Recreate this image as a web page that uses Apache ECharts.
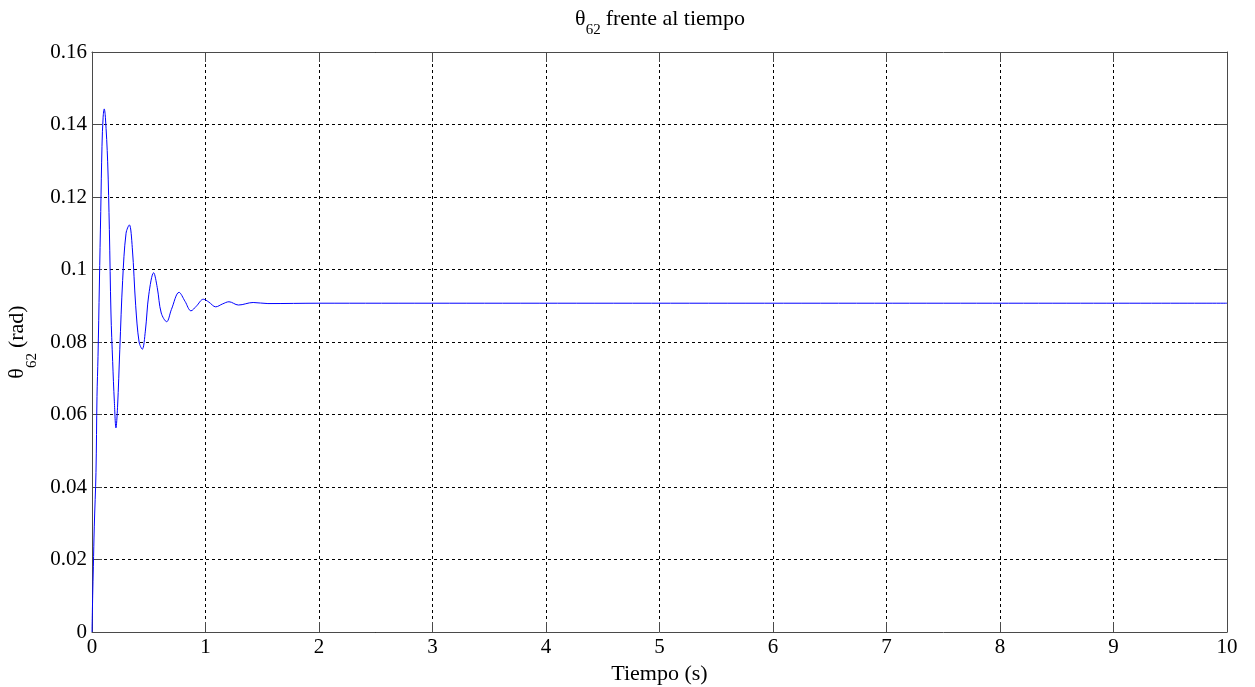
<!DOCTYPE html>
<html>
<head>
<meta charset="utf-8">
<script src="https://cdn.jsdelivr.net/npm/echarts@6/dist/echarts.min.js"></script>
<style>
  html, body { margin: 0; padding: 0; background: #fff; }
  #chart { width: 1255px; height: 687px; }
</style>
</head>
<body>
<div id="chart"></div>
<script>
// Joint angle θ62 response over time (seconds, radians)
const timeS = [
  0, 0.006, 0.012, 0.02, 0.035, 0.044, 0.053, 0.065, 0.077, 0.088, 0.098,
  0.108, 0.118, 0.138, 0.153, 0.167, 0.182, 0.197, 0.211, 0.225, 0.245,
  0.27, 0.30, 0.329, 0.355, 0.385, 0.415, 0.443, 0.47, 0.50, 0.543,
  0.575, 0.61, 0.658, 0.70, 0.767, 0.82, 0.872, 0.92, 0.981, 1.03,
  1.09, 1.15, 1.207, 1.29, 1.42, 1.55, 2, 10
];
const thetaRad = [
  0, 0.010, 0.018, 0.029, 0.044, 0.065, 0.076, 0.096, 0.116, 0.134, 0.142,
  0.1443, 0.142, 0.1297, 0.111, 0.088, 0.0746, 0.0635, 0.0563, 0.062, 0.078,
  0.097, 0.110, 0.1123, 0.106, 0.090, 0.080, 0.0780, 0.083, 0.093, 0.0991,
  0.095, 0.088, 0.0856, 0.089, 0.0937, 0.0912, 0.0886, 0.0899, 0.0918, 0.0910,
  0.0897, 0.0905, 0.0911, 0.0902, 0.0909, 0.0906, 0.0907, 0.0907
];
const xTicks = [0, 1, 2, 3, 4, 5, 6, 7, 8, 9, 10];
const yTicks = ['0', '0.02', '0.04', '0.06', '0.08', '0.1', '0.12', '0.14', '0.16'];

const serif = '"Liberation Serif", "Times New Roman", serif';
const axisColor = '#4a4a4a';
const gridLine = { show: true, lineStyle: { color: '#000', type: [3, 3], width: 1 } };
const inTicks = { show: true, inside: true, length: 10, lineStyle: { color: axisColor } };

// Rich-text styles: main text plus a lowered subscript
function subRich(drop) {
  return {
    t: { fontFamily: serif, fontSize: 22, color: '#000', fontWeight: 'normal' },
    s: { fontFamily: serif, fontSize: 15, color: '#000', fontWeight: 'normal', padding: [drop, 5, 0, 0] }
  };
}

const chart = echarts.init(document.getElementById('chart'), null, { renderer: 'canvas' });
chart.setOption({
  animation: false,
  backgroundColor: '#fff',
  title: {
    text: '{t|θ}{s|62}{t|frente al tiempo}',
    left: 655, top: -4, textAlign: 'center',
    textStyle: { fontWeight: 'normal', rich: subRich(22) }
  },
  grid: { left: 92, right: 28, top: 52, bottom: 55, containLabel: false, outerBoundsMode: 'none' },
  xAxis: [
    {
      type: 'value', min: 0, max: 10, interval: 1, position: 'bottom',
      name: 'Tiempo (s)', nameLocation: 'middle', nameGap: 28,
      nameTextStyle: { fontFamily: serif, fontSize: 22, color: '#000' },
      axisLine: { show: true, onZero: false, lineStyle: { color: axisColor } },
      axisTick: inTicks,
      axisLabel: { fontFamily: serif, fontSize: 21, color: '#000', margin: 5,
        formatter: v => String(xTicks[Math.round(v)]) },
      splitLine: gridLine
    },
    {
      type: 'value', min: 0, max: 10, interval: 1, position: 'top',
      axisLine: { show: true, onZero: false, lineStyle: { color: axisColor } },
      axisTick: inTicks, axisLabel: { show: false }, splitLine: { show: false }
    }
  ],
  yAxis: [
    {
      type: 'value', min: 0, max: 0.16, interval: 0.02, position: 'left',
      name: '{t|θ}{s|62}{t|(rad)}', nameLocation: 'middle', nameGap: 44, nameRotate: 90,
      nameTextStyle: { rich: subRich(30), padding: [5, 0, 0, 0] },
      axisLine: { show: true, onZero: false, lineStyle: { color: axisColor } },
      axisTick: inTicks,
      axisLabel: { fontFamily: serif, fontSize: 21, color: '#000', margin: 5,
        formatter: v => yTicks[Math.round(v / 0.02)] },
      splitLine: gridLine
    },
    {
      type: 'value', min: 0, max: 0.16, interval: 0.02, position: 'right',
      axisLine: { show: true, onZero: false, lineStyle: { color: axisColor } },
      axisTick: inTicks, axisLabel: { show: false }, splitLine: { show: false }
    }
  ],
  series: [{
    type: 'line',
    xAxisIndex: 0, yAxisIndex: 0,
    data: timeS.map((t, i) => [t, thetaRad[i]]),
    showSymbol: false,
    smooth: 0.35,
    lineStyle: { color: '#0000ff', width: 1 },
    z: 5
  }]
});
</script>
</body>
</html>
